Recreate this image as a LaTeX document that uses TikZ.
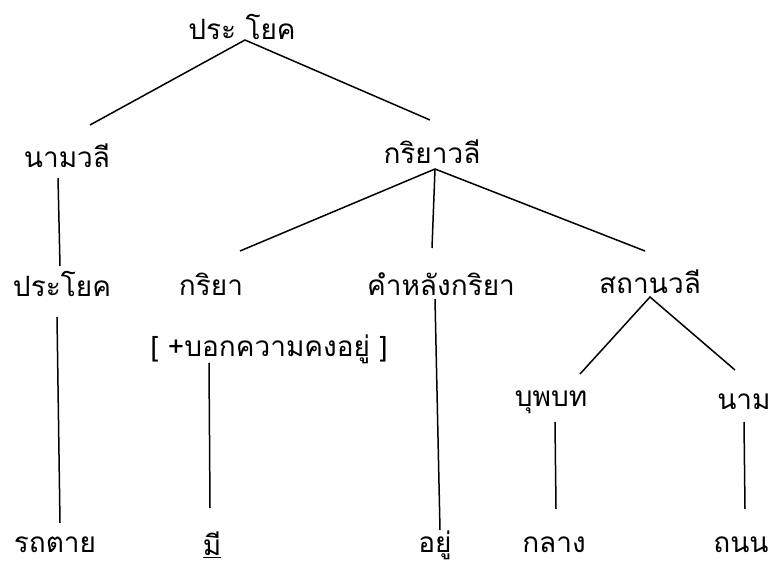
\documentclass[tikz,border=0pt]{standalone}
\usepackage{fontspec}
\newfontfamily\thaifont[Script=Thai]{Loma}
\usepackage{tikz}
\usetikzlibrary{calc}

\begin{document}
\begin{tikzpicture}[x=1pt,y=-1pt,
  every node/.style={font=\thaifont\fontsize{28}{32}\selectfont,inner sep=1pt},
  branch/.style={line width=1.5pt}]
  \useasboundingbox (0,0) rectangle (774,569);
  \node (s) at (242,27) {ประ โยค};
  \node (np) at (67,156) {นามวลี};
  \node (vp) at (432,152) {กริยาวลี};
  \node (s2) at (62,284) {ประโยค};
  \node (v) at (211,284) {กริยา};
  \node (adv) at (441,284) {คำหลังกริยา};
  \node (loc) at (650,282) {สถานวลี};
  \node (feat) at (269,349) {[ +บอกความคงอยู่ ]};
  \node (prep) at (551,402) {บุพบท};
  \node (n) at (744,402) {นาม};
  \node (w1) at (55,545) {รถตาย};
  \node (w2) at (212,545) {\underline{มี}};
  \node (w3) at (435,545) {อยู่};
  \node (w4) at (554,545) {กลาง};
  \node (w5) at (741,545) {ถนน};
  \draw[branch] ($(np)+(23,-31)$) -- ($(s)+(3,13)$) -- ($(vp)+(-2,-32)$);
  \draw[branch] ($(np)+(-9,22)$) -- ($(s2)+(-2,-18)$);
  \draw[branch] ($(s2)+(-5,33)$) -- ($(w1)+(5,-22)$);
  \draw[branch] ($(v)+(29,-33)$) -- ($(vp)+(3,17)$) -- ($(loc)+(-5,-31)$);
  \draw[branch] ($(vp)+(3,17)$) -- ($(adv)+(-9,-36)$);
  \draw[branch] ($(adv)+(-6,15)$) -- ($(w3)+(5,-15)$);
  \draw[branch] ($(feat)+(-60,14)$) -- ($(w2)+(-2,-37)$);
  \draw[branch] ($(prep)+(29,-28)$) -- ($(loc)+(0,15)$) -- ($(n)+(-9,-32)$);
  \draw[branch] ($(prep)+(4,20)$) -- ($(w4)+(2,-36)$);
  \draw[branch] ($(n)+(0,20)$) -- ($(w5)+(4,-36)$);
\end{tikzpicture}
\end{document}
